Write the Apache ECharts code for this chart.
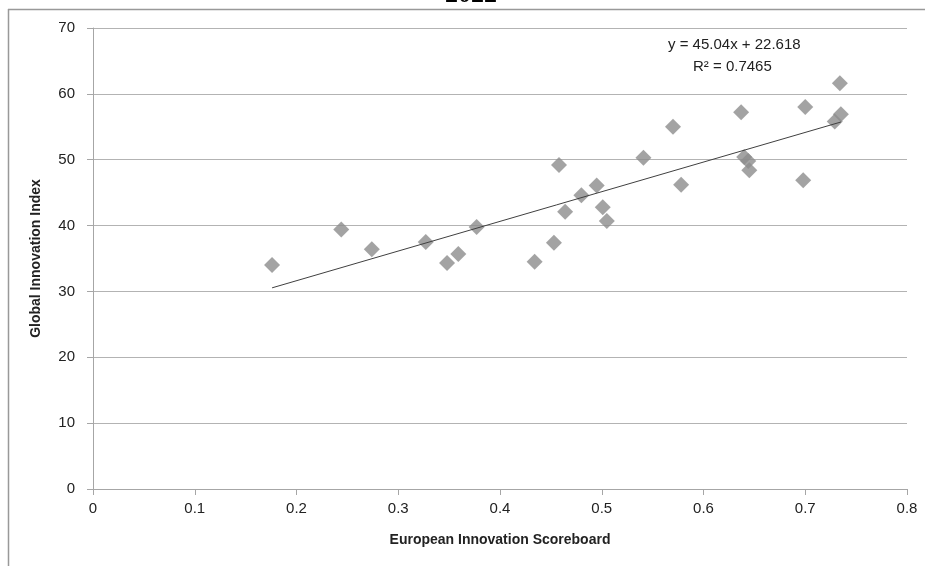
<!DOCTYPE html>
<html lang="en">
<head>
  <meta charset="UTF-8">
  <title>EIS vs GII 2022</title>
  <script src="https://cdn.jsdelivr.net/npm/echarts@6/dist/echarts.min.js"></script>
  <style>
    html, body { margin: 0; padding: 0; background: #fff; }
    #chart { width: 925px; height: 566px; }
  </style>
</head>
<body>
  <div id="chart"></div>
  <script>
    // European Innovation Scoreboard (x) vs Global Innovation Index (y)
    const eisScores = [0.176, 0.244, 0.274, 0.327, 0.348, 0.359, 0.377, 0.434, 0.453,
      0.458, 0.464, 0.480, 0.495, 0.501, 0.505, 0.541, 0.570, 0.578, 0.637,
      0.640, 0.644, 0.645, 0.698, 0.700, 0.729, 0.734, 0.735];
    const giiScores = [34.0, 39.4, 36.4, 37.5, 34.3, 35.7, 39.8, 34.5, 37.4,
      49.2, 42.1, 44.6, 46.1, 42.8, 40.7, 50.3, 55.0, 46.2, 57.2,
      50.4, 49.8, 48.4, 46.9, 58.0, 55.8, 61.6, 56.9];
    const slope = 45.04;
    const intercept = 22.618;
    const rSquared = 0.7465;
    const xTicks = [0, 0.1, 0.2, 0.3, 0.4, 0.5, 0.6, 0.7, 0.8];
    const yTicks = [0, 10, 20, 30, 40, 50, 60, 70];

    const points = eisScores.map((x, i) => [x, giiScores[i]]);
    const xMin = Math.min(...eisScores);
    const xMax = Math.max(...eisScores);
    const trend = [[xMin, slope * xMin + intercept], [xMax, slope * xMax + intercept]];

    const chart = echarts.init(document.getElementById('chart'));
    const font = '"Liberation Sans", Arial, sans-serif';

    chart.setOption({
      animation: false,
      backgroundColor: '#fff',
      textStyle: { fontFamily: font },
      grid: { left: 93, right: 18, top: 28, bottom: 77 },
      xAxis: {
        type: 'value',
        min: xTicks[0],
        max: xTicks[xTicks.length - 1],
        interval: 0.1,
        name: 'European Innovation Scoreboard',
        nameLocation: 'middle',
        nameGap: 44,
        nameTextStyle: { fontFamily: font, fontWeight: 'bold', fontSize: 14, color: '#222' },
        axisLine: { show: true, lineStyle: { color: '#a6a6a6', width: 1 } },
        axisTick: { show: true, length: 6, lineStyle: { color: '#a6a6a6' } },
        axisLabel: { color: '#222', fontSize: 15, margin: 12, fontFamily: font },
        splitLine: { show: false }
      },
      yAxis: {
        type: 'value',
        min: yTicks[0],
        max: yTicks[yTicks.length - 1],
        interval: 10,
        name: 'Global Innovation Index',
        nameLocation: 'middle',
        nameGap: 50,
        nameTextStyle: { fontFamily: font, fontWeight: 'bold', fontSize: 14, color: '#222' },
        axisLine: { show: true, lineStyle: { color: '#a6a6a6', width: 1 } },
        axisTick: { show: true, length: 6, lineStyle: { color: '#a6a6a6' } },
        axisLabel: { color: '#222', fontSize: 15, margin: 18, fontFamily: font },
        splitLine: { show: true, lineStyle: { color: '#b3b3b3', width: 1 } }
      },
      graphic: [
        {
          type: 'line',
          shape: { x1: 8.5, y1: 9, x2: 8.5, y2: 566 },
          style: { stroke: '#999', lineWidth: 1.5 }
        },
        {
          type: 'line',
          shape: { x1: 8, y1: 9.5, x2: 925, y2: 9.5 },
          style: { stroke: '#999', lineWidth: 1.5 }
        },
        {
          type: 'text',
          left: 445,
          top: -18,
          style: {
            text: '2022',
            font: 'bold 26px "Liberation Serif", serif',
            fill: '#000'
          }
        },
        {
          type: 'text',
          left: 668,
          top: 34,
          style: {
            text: 'y = ' + slope + 'x + ' + intercept + '\n      R² = ' + rSquared,
            font: '15px ' + font,
            fill: '#222',
            lineHeight: 22
          }
        }
      ],
      series: [
        {
          type: 'scatter',
          data: points,
          symbol: 'diamond',
          symbolSize: 16,
          itemStyle: { color: '#8c8c8c' },
          z: 3
        },
        {
          type: 'line',
          data: trend,
          symbol: 'none',
          lineStyle: { color: '#404040', width: 1 },
          z: 4
        }
      ]
    });
  </script>
</body>
</html>
